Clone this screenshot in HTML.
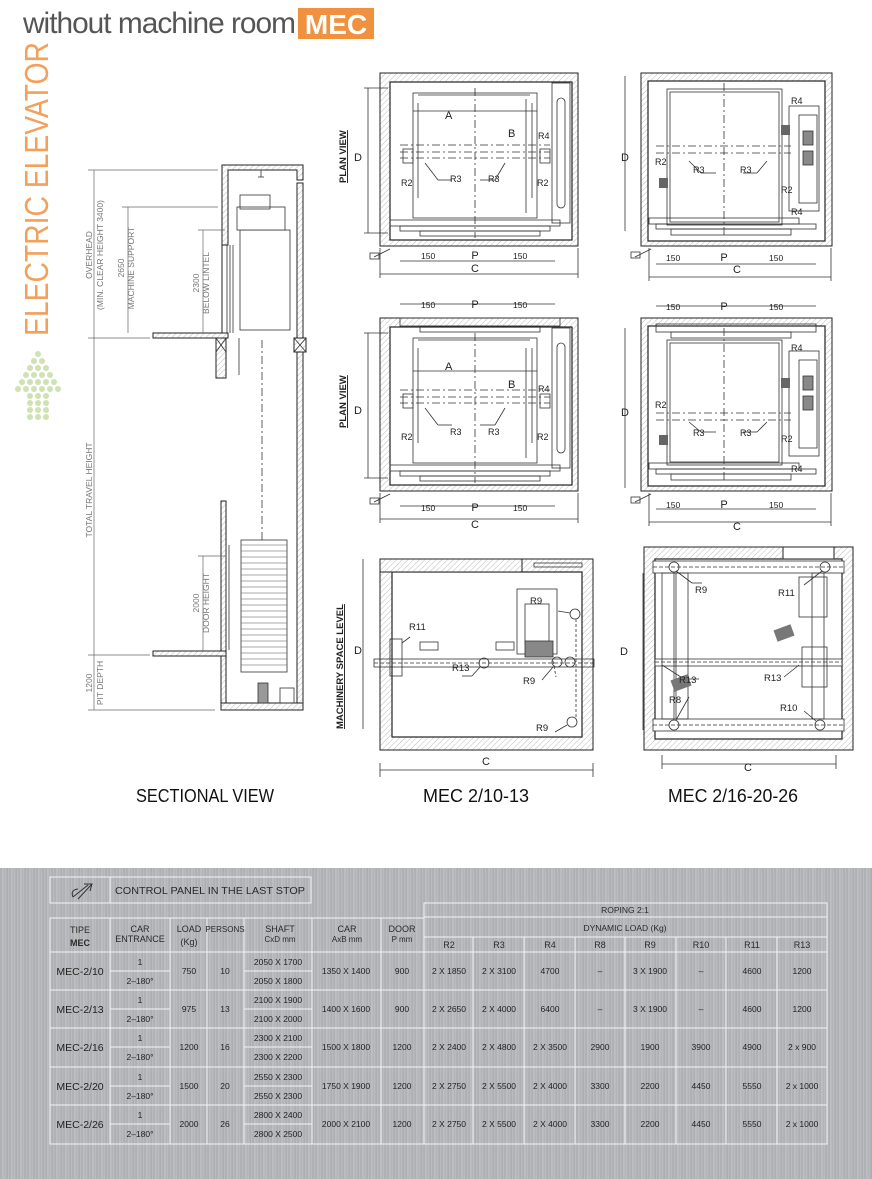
<!DOCTYPE html>
<html><head><meta charset="utf-8">
<style>
html,body{margin:0;padding:0;background:#fff}
body{width:872px;height:1179px;position:relative;overflow:hidden;font-family:"Liberation Sans",sans-serif}
.band{position:absolute;left:0;top:868px;width:872px;height:311px;
background:repeating-linear-gradient(90deg,#b9babd 0px,#a9aaae 1px,#c4c5c8 3px,#b0b1b5 4px,#bdbec1 6px,#a7a8ac 7px,#c0c1c4 9px);}
svg{position:absolute;left:0;top:0}
</style></head><body>
<div class="band"></div>
<svg width="872" height="1179" viewBox="0 0 872 1179" xmlns="http://www.w3.org/2000/svg" font-family="Liberation Sans, sans-serif">
<defs>
<pattern id="h" width="4" height="4" patternUnits="userSpaceOnUse" patternTransform="rotate(45)">
<rect width="4" height="4" fill="#fff"/><line x1="0" y1="0" x2="0" y2="4" stroke="#aaa" stroke-width="0.8"/></pattern>
</defs>

<!-- header -->
<text x="23" y="33" font-size="30" fill="#555" font-weight="300" letter-spacing="-1" textLength="272" lengthAdjust="spacingAndGlyphs">without machine room</text>
<rect x="298" y="8" width="76" height="31" fill="#f0913f"/>
<text x="336" y="34" font-size="28" fill="#fff" font-weight="bold" text-anchor="middle">MEC</text>
<text transform="translate(48,336) rotate(-90)" font-size="33" fill="#f2a05a" textLength="294" lengthAdjust="spacingAndGlyphs">ELECTRIC ELEVATOR</text>
<g fill="#cfe2b4">
<circle cx="38" cy="354" r="3"/>
<circle cx="34" cy="361" r="3"/><circle cx="42" cy="361" r="3"/>
<circle cx="30" cy="368" r="3"/><circle cx="38" cy="368" r="3"/><circle cx="46" cy="368" r="3"/>
<circle cx="26" cy="375" r="3"/><circle cx="34" cy="375" r="3"/><circle cx="42" cy="375" r="3"/><circle cx="50" cy="375" r="3"/>
<circle cx="22" cy="382" r="3"/><circle cx="30" cy="382" r="3"/><circle cx="38" cy="382" r="3"/><circle cx="46" cy="382" r="3"/><circle cx="54" cy="382" r="3"/>
<circle cx="18" cy="389" r="3"/><circle cx="26" cy="389" r="3"/><circle cx="34" cy="389" r="3"/><circle cx="42" cy="389" r="3"/><circle cx="50" cy="389" r="3"/><circle cx="58" cy="389" r="3"/>
<circle cx="30" cy="396" r="3"/><circle cx="38" cy="396" r="3"/><circle cx="46" cy="396" r="3"/>
<circle cx="30" cy="403" r="3"/><circle cx="38" cy="403" r="3"/><circle cx="46" cy="403" r="3"/>
<circle cx="30" cy="410" r="3"/><circle cx="38" cy="410" r="3"/><circle cx="46" cy="410" r="3"/>
<circle cx="30" cy="417" r="3"/><circle cx="38" cy="417" r="3"/><circle cx="46" cy="417" r="3"/>
</g>

<!-- SECTIONAL VIEW -->
<g stroke="#222" stroke-width="1" fill="url(#h)">
<path d="M222 333 V165 H303 V180 H297 V170 H228 V245 H222 Z"/>
<rect x="297" y="183" width="6" height="527"/>
<rect x="153" y="333" width="75" height="5"/>
<rect x="216" y="338" width="10" height="40"/>
<rect x="294" y="338" width="12" height="14"/>
<rect x="221" y="501" width="5" height="150"/>
<rect x="153" y="651" width="73" height="5"/>
<rect x="221" y="656" width="5" height="54"/>
<rect x="221" y="703" width="82" height="7"/>
</g>
<g stroke="#333" fill="none" stroke-width="0.8">
<line x1="216" y1="338" x2="226" y2="352"/><line x1="226" y1="338" x2="216" y2="352"/>
<line x1="294" y1="338" x2="306" y2="352"/><line x1="306" y1="338" x2="294" y2="352"/>
<rect x="240" y="230" width="50" height="100" fill="#fff"/>
<rect x="237" y="207" width="48" height="23" fill="#fff"/>
<rect x="240" y="195" width="30" height="14"/>
<line x1="227" y1="245" x2="227" y2="333"/><line x1="230" y1="245" x2="230" y2="333"/><line x1="233" y1="245" x2="233" y2="333"/>
<line x1="239" y1="338" x2="239" y2="375"/>
<line x1="262" y1="340" x2="262" y2="540" stroke-dasharray="8,3,2,3"/>
<line x1="258" y1="170" x2="264" y2="170"/><line x1="261" y1="170" x2="261" y2="177"/><line x1="258" y1="177" x2="264" y2="177"/>
<rect x="241" y="540" width="46" height="132" fill="#fff"/>
<rect x="258" y="683" width="10" height="20" fill="#999"/>
<rect x="280" y="688" width="14" height="15"/>
<line x1="226" y1="545" x2="226" y2="650"/><line x1="229" y1="545" x2="229" y2="650"/>
</g>
<g stroke="#555" stroke-width="0.6">
<line x1="241" y1="545" x2="287" y2="545"/><line x1="241" y1="551" x2="287" y2="551"/><line x1="241" y1="557" x2="287" y2="557"/><line x1="241" y1="563" x2="287" y2="563"/><line x1="241" y1="569" x2="287" y2="569"/><line x1="241" y1="575" x2="287" y2="575"/><line x1="241" y1="581" x2="287" y2="581"/><line x1="241" y1="587" x2="287" y2="587"/><line x1="241" y1="593" x2="287" y2="593"/><line x1="241" y1="599" x2="287" y2="599"/><line x1="241" y1="605" x2="287" y2="605"/><line x1="241" y1="611" x2="287" y2="611"/><line x1="241" y1="617" x2="287" y2="617"/><line x1="241" y1="623" x2="287" y2="623"/><line x1="241" y1="629" x2="287" y2="629"/><line x1="241" y1="635" x2="287" y2="635"/><line x1="241" y1="641" x2="287" y2="641"/><line x1="241" y1="647" x2="287" y2="647"/><line x1="241" y1="653" x2="287" y2="653"/><line x1="241" y1="659" x2="287" y2="659"/><line x1="241" y1="665" x2="287" y2="665"/>
</g>
<g stroke="#666" stroke-width="0.7" fill="none">
<line x1="94" y1="170" x2="94" y2="710"/>
<line x1="88" y1="170" x2="218" y2="170"/><line x1="88" y1="338" x2="150" y2="338"/><line x1="88" y1="655" x2="150" y2="655"/><line x1="88" y1="710" x2="215" y2="710"/>
<line x1="128" y1="207" x2="128" y2="333"/><line x1="122" y1="207" x2="218" y2="207"/>
<line x1="203" y1="230" x2="203" y2="333"/><line x1="198" y1="230" x2="225" y2="230"/>
<line x1="203" y1="556" x2="203" y2="651"/><line x1="198" y1="556" x2="225" y2="556"/>
</g>
<g fill="#777" font-size="8.5" text-anchor="middle">
<text transform="translate(92,255) rotate(-90)">OVERHEAD</text>
<text transform="translate(103,255) rotate(-90)">(MIN. CLEAR HEIGHT 3400)</text>
<text transform="translate(124,268) rotate(-90)">2650</text>
<text transform="translate(134,268) rotate(-90)">MACHINE SUPPORT</text>
<text transform="translate(199,283) rotate(-90)">2300</text>
<text transform="translate(209,283) rotate(-90)">BELOW LINTEL</text>
<text transform="translate(92,490) rotate(-90)">TOTAL TRAVEL HEIGHT</text>
<text transform="translate(199,603) rotate(-90)">2000</text>
<text transform="translate(209,603) rotate(-90)">DOOR HEIGHT</text>
<text transform="translate(92,683) rotate(-90)">1200</text>
<text transform="translate(103,683) rotate(-90)">PIT DEPTH</text>
</g>

<!-- PLAN VIEW left (two copies) -->
<g transform="translate(380,73)">
<rect x="0" y="0" width="198" height="173" fill="url(#h)" stroke="#222"/>
<rect x="10" y="9" width="182" height="158" fill="#fff" stroke="#222" stroke-width="1.2"/>
<g stroke="#333" fill="none" stroke-width="0.8">
<rect x="33" y="20" width="124" height="125"/>
<line x1="38" y1="22" x2="150" y2="22"/>
<line x1="38" y1="30" x2="38" y2="125"/><line x1="152" y1="30" x2="152" y2="125"/>
<rect x="172" y="10" width="18" height="140"/>
<rect x="177" y="25" width="8" height="110" rx="4"/>
<rect x="10" y="147" width="170" height="6"/><rect x="20" y="153" width="150" height="5"/><rect x="40" y="158" width="120" height="5"/>
<line x1="95" y1="15" x2="95" y2="165" stroke-dasharray="8,3,2,3"/>
<line x1="20" y1="72" x2="170" y2="72" stroke-dasharray="8,3,2,3"/>
<line x1="20" y1="79" x2="170" y2="79" stroke-dasharray="8,3,2,3"/>
<line x1="20" y1="85" x2="170" y2="85" stroke-dasharray="8,3,2,3"/>
<line x1="33" y1="38" x2="157" y2="38"/>
<line x1="146" y1="26" x2="146" y2="140"/>
<rect x="23" y="76" width="10" height="14"/><rect x="160" y="76" width="10" height="14"/>
<line x1="45" y1="90" x2="58" y2="107"/><line x1="58" y1="107" x2="72" y2="107"/>
<line x1="125" y1="90" x2="115" y2="107"/><line x1="115" y1="107" x2="100" y2="107"/>
<line x1="-12" y1="15" x2="-12" y2="160"/><line x1="-16" y1="15" x2="8" y2="15"/><line x1="-16" y1="160" x2="8" y2="160"/>
<line x1="0" y1="201" x2="198" y2="201"/><line x1="0" y1="175" x2="0" y2="205"/><line x1="198" y1="175" x2="198" y2="205"/>
<line x1="20" y1="188" x2="175" y2="188"/>
<line x1="-6" y1="184" x2="10" y2="176"/><rect x="-10" y="180" width="9" height="6"/>
</g>
<g font-size="11" fill="#222">
<text x="65" y="46">A</text><text x="128" y="64">B</text>
<text x="158" y="66" font-size="9">R4</text>
<text x="21" y="113" font-size="9">R2</text><text x="157" y="113" font-size="9">R2</text>
<text x="70" y="109" font-size="9">R3</text><text x="108" y="109" font-size="9">R3</text>
<text x="-26" y="88">D</text>
<text x="95" y="186" text-anchor="middle">P</text>
<text x="95" y="199" text-anchor="middle">C</text>
<text x="41" y="186" font-size="8.5">150</text><text x="133" y="186" font-size="8.5">150</text>
</g>
<text transform="translate(-34,110) rotate(-90)" font-size="9.5" font-weight="bold" fill="#222" text-decoration="underline">PLAN VIEW</text>
</g>
<g transform="translate(380,318)">
<rect x="0" y="0" width="198" height="173" fill="url(#h)" stroke="#222"/>
<rect x="10" y="9" width="182" height="158" fill="#fff" stroke="#222" stroke-width="1.2"/>
<g stroke="#333" fill="none" stroke-width="0.8">
<rect x="33" y="20" width="124" height="125"/>
<line x1="38" y1="22" x2="150" y2="22"/>
<line x1="38" y1="30" x2="38" y2="125"/><line x1="152" y1="30" x2="152" y2="125"/>
<rect x="172" y="10" width="18" height="140"/>
<rect x="177" y="25" width="8" height="110" rx="4"/>
<rect x="10" y="147" width="170" height="6"/><rect x="20" y="153" width="150" height="5"/><rect x="40" y="158" width="120" height="5"/>
<rect x="20" y="0" width="160" height="8"/><rect x="40" y="8" width="120" height="6"/>
<line x1="95" y1="15" x2="95" y2="165" stroke-dasharray="8,3,2,3"/>
<line x1="20" y1="72" x2="170" y2="72" stroke-dasharray="8,3,2,3"/>
<line x1="20" y1="79" x2="170" y2="79" stroke-dasharray="8,3,2,3"/>
<line x1="20" y1="85" x2="170" y2="85" stroke-dasharray="8,3,2,3"/>
<line x1="33" y1="53" x2="157" y2="53"/>
<line x1="146" y1="30" x2="146" y2="140"/>
<rect x="23" y="76" width="10" height="14"/><rect x="160" y="76" width="10" height="14"/>
<line x1="45" y1="90" x2="58" y2="107"/><line x1="58" y1="107" x2="72" y2="107"/>
<line x1="125" y1="90" x2="115" y2="107"/><line x1="115" y1="107" x2="100" y2="107"/>
<line x1="-12" y1="15" x2="-12" y2="160"/><line x1="-16" y1="15" x2="8" y2="15"/><line x1="-16" y1="160" x2="8" y2="160"/>
<line x1="0" y1="201" x2="198" y2="201"/><line x1="0" y1="175" x2="0" y2="205"/><line x1="198" y1="175" x2="198" y2="205"/>
<line x1="20" y1="188" x2="175" y2="188"/>
<line x1="20" y1="-14" x2="175" y2="-14"/>
<line x1="-6" y1="184" x2="10" y2="176"/><rect x="-10" y="180" width="9" height="6"/>
</g>
<g font-size="11" fill="#222">
<text x="65" y="52">A</text><text x="128" y="70">B</text>
<text x="158" y="74" font-size="9">R4</text>
<text x="21" y="122" font-size="9">R2</text><text x="157" y="122" font-size="9">R2</text>
<text x="70" y="117" font-size="9">R3</text><text x="108" y="117" font-size="9">R3</text>
<text x="-26" y="96">D</text>
<text x="95" y="-10" text-anchor="middle">P</text>
<text x="41" y="-10" font-size="8.5">150</text><text x="133" y="-10" font-size="8.5">150</text>
<text x="95" y="193" text-anchor="middle">P</text>
<text x="95" y="210" text-anchor="middle">C</text>
<text x="41" y="193" font-size="8.5">150</text><text x="133" y="193" font-size="8.5">150</text>
</g>
<text transform="translate(-34,110) rotate(-90)" font-size="9.5" font-weight="bold" fill="#222" text-decoration="underline">PLAN VIEW</text>
</g>

<!-- PLAN VIEW right (two copies) -->
<g transform="translate(641,73)">
<rect x="0" y="0" width="191" height="173" fill="url(#h)" stroke="#222"/>
<rect x="7" y="8" width="177" height="160" fill="#fff" stroke="#222" stroke-width="1.2"/>
<g stroke="#333" fill="none" stroke-width="0.8">
<rect x="26" y="16" width="115" height="136"/><rect x="29" y="19" width="109" height="130"/>
<rect x="148" y="33" width="30" height="105"/><rect x="158" y="42" width="18" height="88"/>
<rect x="162" y="58" width="10" height="14" fill="#888"/><rect x="162" y="78" width="10" height="14" fill="#888"/>
<rect x="8" y="145" width="150" height="6"/><rect x="15" y="151" width="160" height="5"/><rect x="30" y="156" width="120" height="6"/>
<line x1="83" y1="10" x2="83" y2="165" stroke-dasharray="8,3,2,3"/>
<line x1="15" y1="73" x2="150" y2="73" stroke-dasharray="8,3,2,3"/>
<line x1="15" y1="80" x2="150" y2="80" stroke-dasharray="8,3,2,3"/>
<line x1="48" y1="88" x2="60" y2="100"/><line x1="60" y1="100" x2="75" y2="100"/>
<line x1="126" y1="88" x2="116" y2="100"/><line x1="116" y1="100" x2="102" y2="100"/>
<line x1="-16" y1="3" x2="-16" y2="158"/>
<line x1="8" y1="204" x2="190" y2="204"/><line x1="8" y1="175" x2="8" y2="208"/><line x1="190" y1="175" x2="190" y2="208"/>
<line x1="15" y1="191" x2="175" y2="191"/>
<line x1="-6" y1="184" x2="10" y2="176"/><rect x="-10" y="179" width="9" height="6"/>
</g>
<rect x="18" y="105" width="9" height="10" fill="#666"/><rect x="140" y="52" width="9" height="10" fill="#666"/>
<g font-size="9" fill="#222">
<text x="14" y="92">R2</text><text x="140" y="120">R2</text>
<text x="52" y="100">R3</text><text x="99" y="100">R3</text>
<text x="150" y="31">R4</text><text x="150" y="142">R4</text>
<text x="-20" y="88" font-size="11">D</text>
<text x="83" y="188" text-anchor="middle" font-size="11">P</text>
<text x="96" y="200" text-anchor="middle" font-size="11">C</text>
<text x="25" y="188" font-size="8.5">150</text><text x="128" y="188" font-size="8.5">150</text>
</g>
</g>
<g transform="translate(641,318)">
<rect x="0" y="0" width="191" height="173" fill="url(#h)" stroke="#222"/>
<rect x="7" y="8" width="177" height="160" fill="#fff" stroke="#222" stroke-width="1.2"/>
<g stroke="#333" fill="none" stroke-width="0.8">
<rect x="26" y="22" width="115" height="125"/><rect x="29" y="25" width="109" height="119"/>
<rect x="148" y="33" width="30" height="105"/><rect x="158" y="42" width="18" height="88"/>
<rect x="162" y="58" width="10" height="14" fill="#888"/><rect x="162" y="78" width="10" height="14" fill="#888"/>
<rect x="8" y="145" width="150" height="6"/><rect x="15" y="151" width="160" height="5"/><rect x="30" y="156" width="120" height="6"/>
<rect x="15" y="6" width="160" height="8"/><rect x="30" y="14" width="120" height="6"/>
<line x1="83" y1="10" x2="83" y2="165" stroke-dasharray="8,3,2,3"/>
<line x1="15" y1="95" x2="150" y2="95" stroke-dasharray="8,3,2,3"/>
<line x1="15" y1="102" x2="150" y2="102" stroke-dasharray="8,3,2,3"/>
<line x1="48" y1="104" x2="60" y2="114"/><line x1="60" y1="114" x2="75" y2="114"/>
<line x1="126" y1="104" x2="116" y2="114"/><line x1="116" y1="114" x2="102" y2="114"/>
<line x1="-16" y1="10" x2="-16" y2="170"/>
<line x1="15" y1="-12" x2="175" y2="-12"/>
<line x1="8" y1="204" x2="190" y2="204"/><line x1="8" y1="175" x2="8" y2="208"/><line x1="190" y1="175" x2="190" y2="208"/>
<line x1="15" y1="191" x2="175" y2="191"/>
<line x1="-6" y1="184" x2="10" y2="176"/><rect x="-10" y="179" width="9" height="6"/>
</g>
<rect x="18" y="117" width="9" height="10" fill="#666"/><rect x="140" y="60" width="9" height="10" fill="#666"/>
<g font-size="9" fill="#222">
<text x="14" y="90">R2</text><text x="140" y="124">R2</text>
<text x="52" y="118">R3</text><text x="99" y="118">R3</text>
<text x="150" y="33">R4</text><text x="150" y="154">R4</text>
<text x="-20" y="98" font-size="11">D</text>
<text x="83" y="-8" text-anchor="middle" font-size="11">P</text>
<text x="25" y="-8" font-size="8.5">150</text><text x="128" y="-8" font-size="8.5">150</text>
<text x="83" y="190" text-anchor="middle" font-size="11">P</text>
<text x="96" y="212" text-anchor="middle" font-size="11">C</text>
<text x="25" y="190" font-size="8.5">150</text><text x="128" y="190" font-size="8.5">150</text>
</g>
</g>

<!-- MACHINERY left -->
<g transform="translate(380,559)">
<rect x="0" y="0" width="213" height="191" fill="url(#h)" stroke="#222"/>
<rect x="12" y="13" width="190" height="165" fill="#fff" stroke="#222" stroke-width="1.2"/>
<rect x="0" y="0" width="142" height="13" fill="url(#h)" stroke="#222"/>
<g stroke="#333" fill="none" stroke-width="0.8">
<rect x="-6" y="100" width="220" height="8"/>
<line x1="-6" y1="104" x2="214" y2="104" stroke-dasharray="4,2"/>
<rect x="154" y="4" width="48" height="4"/>
<rect x="137" y="30" width="40" height="65"/><rect x="145" y="45" width="24" height="40"/>
<rect x="145" y="82" width="28" height="16" fill="#888"/>
<rect x="10" y="80" width="12" height="37"/>
<rect x="40" y="83" width="18" height="8"/><rect x="116" y="83" width="18" height="8"/>
<circle cx="104" cy="104" r="5"/><circle cx="177" cy="103" r="5"/><circle cx="190" cy="103" r="5"/><circle cx="195" cy="55" r="5"/><circle cx="192" cy="163" r="5"/>
<line x1="173" y1="102" x2="176" y2="118" stroke-dasharray="3,2"/><line x1="196" y1="60" x2="196" y2="158" stroke-dasharray="3,2"/>
<line x1="22" y1="84" x2="30" y2="78"/><line x1="100" y1="108" x2="92" y2="117"/><line x1="92" y1="117" x2="82" y2="117"/>
<line x1="173" y1="108" x2="162" y2="121"/><line x1="187" y1="166" x2="175" y2="173"/>
<line x1="190" y1="54" x2="178" y2="52"/>
<line x1="0" y1="211" x2="213" y2="211"/><line x1="0" y1="204" x2="0" y2="218"/><line x1="213" y1="204" x2="213" y2="218"/>
<line x1="-17" y1="0" x2="-17" y2="170"/>
</g>
<g font-size="9.5" fill="#222">
<text x="29" y="71">R11</text><text x="72" y="112">R13</text><text x="143" y="125">R9</text><text x="156" y="172">R9</text><text x="150" y="45">R9</text>
<text x="-26" y="95" font-size="11">D</text>
<text x="106" y="206" text-anchor="middle" font-size="11">C</text>
</g>
<text transform="translate(-37,170) rotate(-90)" font-size="9.5" font-weight="bold" fill="#222" text-decoration="underline">MACHINERY SPACE LEVEL</text>
</g>

<!-- MACHINERY right -->
<g transform="translate(644,547)">
<rect x="0" y="0" width="209" height="203" fill="url(#h)" stroke="#222"/>
<rect x="11" y="12" width="187" height="180" fill="#fff" stroke="#222" stroke-width="1.2"/>
<rect x="139" y="0" width="51" height="12" fill="#fff" stroke="#222"/>
<g stroke="#333" fill="none" stroke-width="0.8">
<rect x="9" y="14" width="191" height="12" fill="#fff"/><line x1="9" y1="20" x2="200" y2="20" stroke-dasharray="4,2"/>
<rect x="11" y="112" width="187" height="7" fill="#fff"/><line x1="11" y1="115" x2="198" y2="115" stroke-dasharray="4,2"/>
<rect x="9" y="172" width="191" height="12" fill="#fff"/><line x1="9" y1="178" x2="200" y2="178" stroke-dasharray="4,2"/>
<rect x="18" y="26" width="12" height="146"/><rect x="32" y="26" width="12" height="146"/>
<rect x="168" y="26" width="12" height="146"/><rect x="155" y="30" width="28" height="40"/>
<rect x="158" y="100" width="25" height="40"/>
<circle cx="30" cy="20" r="5"/><circle cx="181" cy="20" r="5"/><circle cx="30" cy="178" r="5"/><circle cx="176" cy="178" r="5"/>
<line x1="32" y1="24" x2="48" y2="36"/><line x1="48" y1="36" x2="58" y2="36"/>
<line x1="178" y1="24" x2="160" y2="38"/>
<line x1="18" y1="118" x2="40" y2="132"/><line x1="40" y1="132" x2="55" y2="132"/>
<line x1="155" y1="118" x2="140" y2="130"/>
<line x1="32" y1="173" x2="45" y2="150"/><line x1="172" y1="174" x2="160" y2="164"/>
<line x1="-1" y1="26" x2="-1" y2="183"/>
<line x1="18" y1="217" x2="192" y2="217"/><line x1="18" y1="208" x2="18" y2="222"/><line x1="192" y1="208" x2="192" y2="222"/>
</g>
<rect x="131" y="80" width="18" height="12" fill="#777" transform="rotate(-20 140 86)"/>
<rect x="28" y="130" width="18" height="12" fill="#777" transform="rotate(-20 37 136)"/>
<g font-size="9.5" fill="#222">
<text x="51" y="46">R9</text><text x="134" y="49">R11</text><text x="35" y="136">R13</text><text x="120" y="134">R13</text><text x="25" y="156">R8</text><text x="136" y="164">R10</text>
<text x="-24" y="108" font-size="11">D</text>
<text x="104" y="224" text-anchor="middle" font-size="11">C</text>
</g>
</g>

<!-- captions -->
<g font-size="18" fill="#111" text-anchor="middle">
<text x="205" y="802" textLength="138" lengthAdjust="spacingAndGlyphs">SECTIONAL VIEW</text>
<text x="476" y="802" textLength="106" lengthAdjust="spacingAndGlyphs">MEC 2/10-13</text>
<text x="733" y="802" textLength="130" lengthAdjust="spacingAndGlyphs">MEC 2/16-20-26</text>
</g>

<!-- TABLE -->
<g stroke="#f4f4f4" stroke-width="1" fill="none">
<rect x="50" y="877" width="261" height="26"/><line x1="110" y1="877" x2="110" y2="903"/>
<rect x="50" y="918" width="374" height="226"/>
<rect x="424" y="903" width="403" height="241"/>
<line x1="424" y1="917" x2="827" y2="917"/><line x1="424" y1="937" x2="827" y2="937"/>
<line x1="50" y1="952" x2="827" y2="952"/>
<line x1="50" y1="990" x2="827" y2="990"/><line x1="50" y1="1028" x2="827" y2="1028"/><line x1="50" y1="1067" x2="827" y2="1067"/><line x1="50" y1="1105" x2="827" y2="1105"/>
<line x1="110" y1="971" x2="170" y2="971"/><line x1="244" y1="971" x2="312" y2="971"/>
<line x1="110" y1="1009" x2="170" y2="1009"/><line x1="244" y1="1009" x2="312" y2="1009"/>
<line x1="110" y1="1047" x2="170" y2="1047"/><line x1="244" y1="1047" x2="312" y2="1047"/>
<line x1="110" y1="1086" x2="170" y2="1086"/><line x1="244" y1="1086" x2="312" y2="1086"/>
<line x1="110" y1="1124" x2="170" y2="1124"/><line x1="244" y1="1124" x2="312" y2="1124"/>
<line x1="110" y1="918" x2="110" y2="1144"/><line x1="170" y1="918" x2="170" y2="1144"/><line x1="207" y1="918" x2="207" y2="1144"/><line x1="244" y1="918" x2="244" y2="1144"/><line x1="312" y1="918" x2="312" y2="1144"/><line x1="381" y1="918" x2="381" y2="1144"/>
<line x1="473" y1="937" x2="473" y2="1144"/><line x1="524" y1="937" x2="524" y2="1144"/><line x1="575" y1="937" x2="575" y2="1144"/><line x1="625" y1="937" x2="625" y2="1144"/><line x1="676" y1="937" x2="676" y2="1144"/><line x1="726" y1="937" x2="726" y2="1144"/><line x1="777" y1="937" x2="777" y2="1144"/>
</g>
<path d="M73 897 L88 885 M78 899 L92 884 M84 884 L92 884 L90 891 M73 897 Q70 890 78 889" stroke="#333" fill="none" stroke-width="1"/>
<g fill="#2a2a2a" font-size="9" text-anchor="middle">
<text x="210" y="894" font-size="10.5" textLength="190" lengthAdjust="spacingAndGlyphs">CONTROL PANEL IN THE LAST STOP</text>
<text x="80" y="933">TIPE</text><text x="80" y="946" font-weight="bold">MEC</text>
<text x="140" y="932">CAR</text><text x="140" y="942">ENTRANCE</text>
<text x="189" y="932">LOAD</text><text x="189" y="945">(Kg)</text>
<text x="225" y="932" font-size="8">PERSONS</text>
<text x="280" y="932">SHAFT</text><text x="280" y="942" font-size="8">CxD  mm</text>
<text x="347" y="932">CAR</text><text x="347" y="942" font-size="8">AxB  mm</text>
<text x="402" y="932">DOOR</text><text x="402" y="942" font-size="8">P  mm</text>
<text x="625" y="913" font-size="8.5">ROPING 2:1</text>
<text x="625" y="931" font-size="8.5">DYNAMIC LOAD (Kg)</text>
<text x="449" y="948">R2</text><text x="499" y="948">R3</text><text x="550" y="948">R4</text><text x="600" y="948">R8</text><text x="650" y="948">R9</text><text x="701" y="948">R10</text><text x="752" y="948">R11</text><text x="802" y="948">R13</text>
</g>
<g fill="#222" font-size="8.5" text-anchor="middle">
<text x="80" y="975" font-size="10.5">MEC-2/10</text><text x="140" y="965">1</text><text x="140" y="984">2–180°</text><text x="189" y="974">750</text><text x="225" y="974">10</text><text x="278" y="965">2050 X 1700</text><text x="278" y="984">2050 X 1800</text><text x="346" y="974">1350 X 1400</text><text x="402" y="974">900</text>
<text x="449" y="974">2 X 1850</text><text x="499" y="974">2 X 3100</text><text x="550" y="974">4700</text><text x="600" y="974">–</text><text x="650" y="974">3 X 1900</text><text x="701" y="974">–</text><text x="752" y="974">4600</text><text x="802" y="974">1200</text>
<text x="80" y="1013" font-size="10.5">MEC-2/13</text><text x="140" y="1003">1</text><text x="140" y="1022">2–180°</text><text x="189" y="1012">975</text><text x="225" y="1012">13</text><text x="278" y="1003">2100 X 1900</text><text x="278" y="1022">2100 X 2000</text><text x="346" y="1012">1400 X 1600</text><text x="402" y="1012">900</text>
<text x="449" y="1012">2 X 2650</text><text x="499" y="1012">2 X 4000</text><text x="550" y="1012">6400</text><text x="600" y="1012">–</text><text x="650" y="1012">3 X 1900</text><text x="701" y="1012">–</text><text x="752" y="1012">4600</text><text x="802" y="1012">1200</text>
<text x="80" y="1051" font-size="10.5">MEC-2/16</text><text x="140" y="1041">1</text><text x="140" y="1060">2–180°</text><text x="189" y="1050">1200</text><text x="225" y="1050">16</text><text x="278" y="1041">2300 X 2100</text><text x="278" y="1060">2300 X 2200</text><text x="346" y="1050">1500 X 1800</text><text x="402" y="1050">1200</text>
<text x="449" y="1050">2 X 2400</text><text x="499" y="1050">2 X 4800</text><text x="550" y="1050">2 X 3500</text><text x="600" y="1050">2900</text><text x="650" y="1050">1900</text><text x="701" y="1050">3900</text><text x="752" y="1050">4900</text><text x="802" y="1050">2 x 900</text>
<text x="80" y="1090" font-size="10.5">MEC-2/20</text><text x="140" y="1080">1</text><text x="140" y="1099">2–180°</text><text x="189" y="1089">1500</text><text x="225" y="1089">20</text><text x="278" y="1080">2550 X 2300</text><text x="278" y="1099">2550 X 2300</text><text x="346" y="1089">1750 X 1900</text><text x="402" y="1089">1200</text>
<text x="449" y="1089">2 X 2750</text><text x="499" y="1089">2 X 5500</text><text x="550" y="1089">2 X 4000</text><text x="600" y="1089">3300</text><text x="650" y="1089">2200</text><text x="701" y="1089">4450</text><text x="752" y="1089">5550</text><text x="802" y="1089">2 x 1000</text>
<text x="80" y="1128" font-size="10.5">MEC-2/26</text><text x="140" y="1118">1</text><text x="140" y="1137">2–180°</text><text x="189" y="1127">2000</text><text x="225" y="1127">26</text><text x="278" y="1118">2800 X 2400</text><text x="278" y="1137">2800 X 2500</text><text x="346" y="1127">2000 X 2100</text><text x="402" y="1127">1200</text>
<text x="449" y="1127">2 X 2750</text><text x="499" y="1127">2 X 5500</text><text x="550" y="1127">2 X 4000</text><text x="600" y="1127">3300</text><text x="650" y="1127">2200</text><text x="701" y="1127">4450</text><text x="752" y="1127">5550</text><text x="802" y="1127">2 x 1000</text>
</g>
</svg>
</body></html>
